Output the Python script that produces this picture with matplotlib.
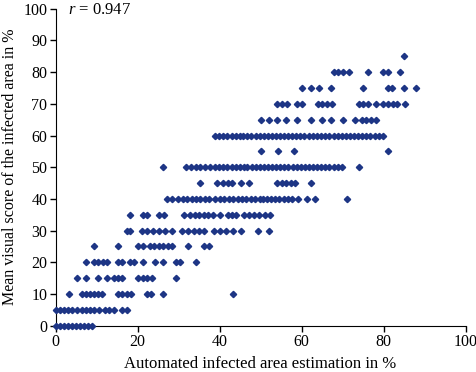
import matplotlib
matplotlib.use("Agg")
import matplotlib.pyplot as plt

plt.rcParams['font.family'] = ['Liberation Serif', 'DejaVu Serif']
plt.rcParams['mathtext.fontset'] = 'custom'
plt.rcParams['mathtext.rm'] = 'Liberation Serif'
plt.rcParams['mathtext.it'] = 'Liberation Serif:italic'

# x positions (automated %), one list per visual score level
row_00 = [0, 1, 2, 3, 4, 5, 6, 7, 7.8, 8.8]
row_05 = [0, 1, 2, 3, 4.1, 5.2, 6.3, 7.3, 8.4, 9.4, 10.6, 12.0, 13.1, 14.2, 16.3, 17.3]
row_10 = [3.2, 6.3, 7.4, 8.4, 9.4, 10.4, 11.4, 15.3, 16.3, 17.3, 18.4, 22.2, 23.2, 26.2, 43.2]
row_15 = [5.3, 7.4, 10.4, 12.4, 14.3, 15.3, 16.3, 20.1, 21.2, 22.3, 23.4, 29.3]
row_20 = [7.3, 9.3, 10.4, 11.5, 12.4, 15.3, 16.3, 18.1, 19.2, 21.4, 24.3, 26.2, 29.3, 30.3, 34.2]
row_25 = [9.3, 15.3, 20.1, 21.2, 23.0, 24.1, 25.1, 26.2, 27.3, 28.3, 32.3, 36.2, 37.3]
row_30 = [17.3, 18.1, 21.0, 22.4, 23.8, 25.2, 26.7, 28.3, 30.7, 32.2, 33.7, 35.0, 36.2,
          38.6, 40.1, 41.6, 43.2, 45.2, 49.3, 52.1]
row_35 = [18.2, 21.4, 22.3, 25.3, 26.4, 31.3, 32.8, 33.9, 35.0, 36.1, 37.2, 38.4, 40.2,
          42.0, 43.0, 44.0, 46.0, 47.2, 48.5, 49.7, 51.1, 52.3]
row_40 = [27.2, 28.4, 29.9, 31.0, 32.1, 33.2, 34.2, 35.3, 36.4, 37.5,
          38.9, 40.0, 41.1, 42.2, 43.3, 44.4, 45.4, 46.5, 47.6, 48.7, 49.8,
          50.6, 51.6, 52.6, 53.6, 54.6, 55.6, 56.6, 57.6, 59.2, 61.2, 63.2, 71.2]
row_45 = [35.3, 39.3, 40.9, 42.0, 43.0, 45.2, 47.2, 54.1, 55.2, 56.2, 57.3, 58.4, 62.3]
row_50 = [26.2, 31.9, 33.0, 34.2, 35.3, 36.5, 37.6,
          38.9, 39.9, 40.9, 41.9, 42.9, 43.9, 44.9, 45.9, 46.8, 47.8,
          48.8, 49.8, 50.8, 51.8, 52.8, 53.8, 54.8, 55.8, 56.8, 57.8, 58.8,
          59.8, 60.8, 61.8, 62.8, 63.8, 64.8, 65.8, 66.8, 67.8, 68.8, 69.8, 74.0]
row_55 = [50.2, 54.2, 58.2, 81.1]
row_60 = [38.9, 39.9, 40.9, 41.9, 43.0, 44.0, 45.0,
          45.7, 46.7, 47.7, 48.8, 49.8, 50.8, 51.9,
          52.7, 53.7, 54.7, 55.7, 56.7, 57.7, 58.7, 59.7, 60.7, 61.8, 62.8,
          63.7, 64.8, 65.8, 66.8, 67.8, 68.8, 69.8, 70.8, 71.8, 72.8, 73.8,
          74.8, 75.8, 76.8, 77.8, 78.9, 79.9]
row_65 = [50.0, 52.0, 54.1, 56.2, 59.0, 62.2, 65.1, 67.1, 70.2, 73.1, 74.7, 75.8, 77.0, 78.1]
row_70 = [54.1, 55.3, 56.4, 59.0, 60.2, 64.1, 65.1, 66.3, 67.4, 74.0, 75.1, 76.3,
          78.1, 79.9, 81.0, 82.2, 83.3, 85.2]
row_75 = [60.2, 62.2, 64.2, 67.1, 75.0, 81.1, 82.1, 85.0, 88.0]
row_80 = [67.8, 69.0, 70.2, 71.5, 76.1, 79.9, 81.1, 84.0]
row_85 = [85.0]

score_levels = [0, 5, 10, 15, 20, 25, 30, 35, 40, 45, 50, 55, 60, 65, 70, 75, 80, 85]
rows = [row_00, row_05, row_10, row_15, row_20, row_25, row_30, row_35, row_40,
        row_45, row_50, row_55, row_60, row_65, row_70, row_75, row_80, row_85]

xs = []
ys = []
for level, row in zip(score_levels, rows):
    xs += row
    ys += [level] * len(row)

fig = plt.figure(figsize=(4.76, 3.72), dpi=100)
ax = fig.add_axes([0.117, 0.1245, 0.861, 0.852])

ax.plot(xs, ys, linestyle='none', marker='D', markersize=3.2,
        color='#1d3585', clip_on=False, zorder=3)

ax.set_xlim(0, 100)
ax.set_ylim(0, 100)
ax.set_xticks([0, 20, 40, 60, 80, 100])
ax.set_yticks(range(0, 101, 10))
ax.spines['top'].set_visible(False)
ax.spines['right'].set_visible(False)
ax.tick_params(direction='out', length=4, width=1, labelsize=11.5, pad=2)

ax.set_xlabel("Automated infected area estimation in %", fontsize=12, labelpad=4)
ax.set_ylabel("Mean visual score of the infected area in %", fontsize=11.5, labelpad=4)

ax.text(3, 99.5, "$r$ = 0.947", fontsize=12, va='center', ha='left')

fig.savefig("out.png", dpi=100)
